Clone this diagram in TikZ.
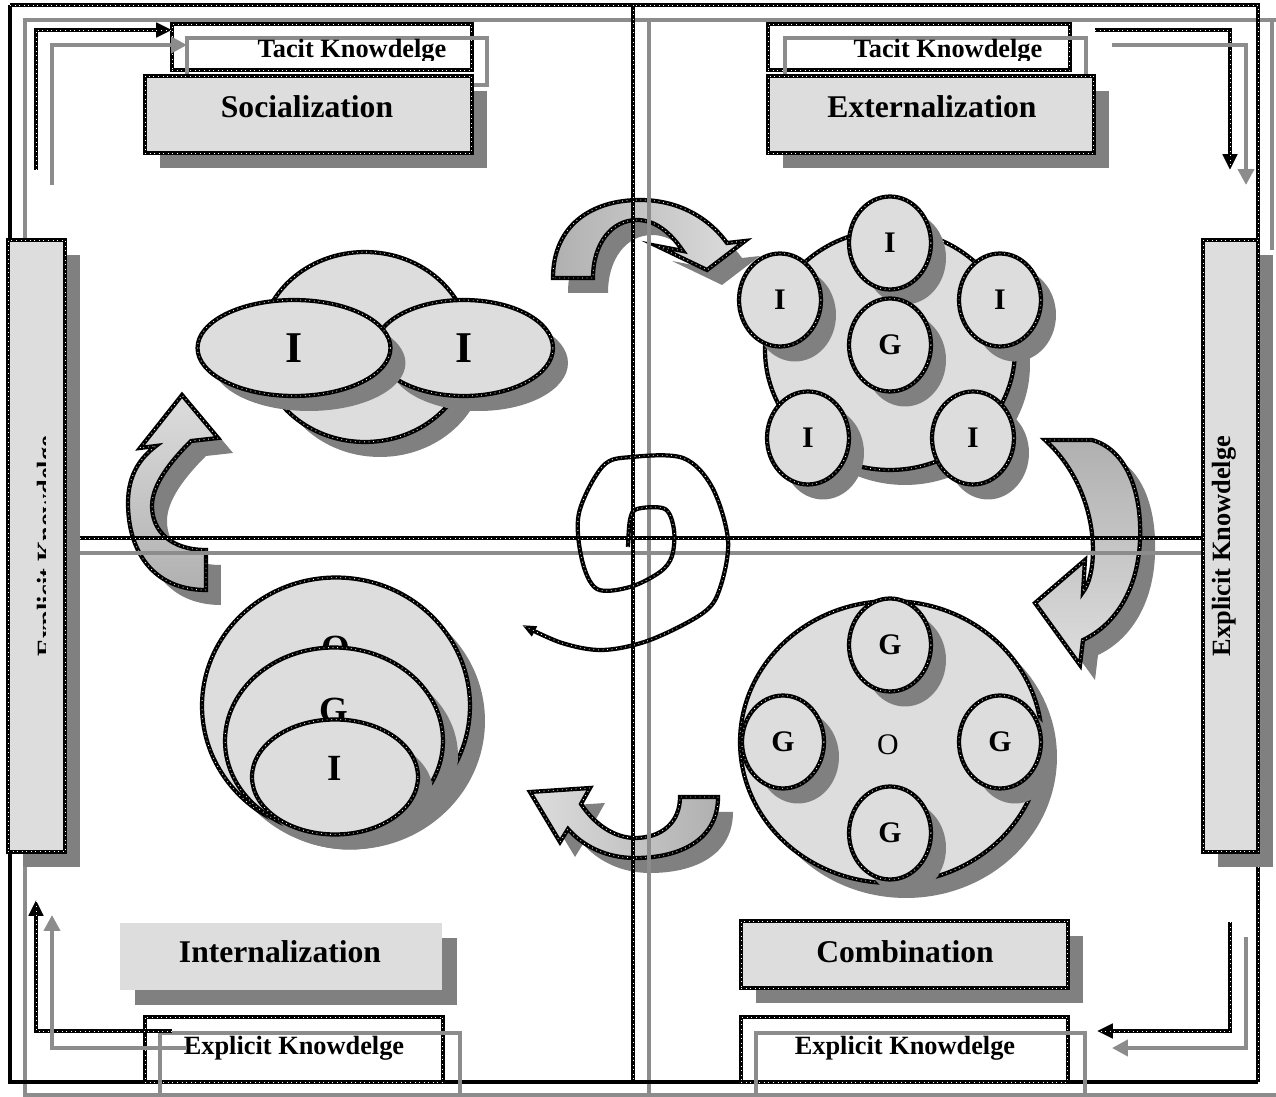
\documentclass[tikz,border=0pt]{standalone}
\usepackage{fontspec}
\setmainfont{Liberation Serif}
\usetikzlibrary{shapes.geometric,shadows,arrows.meta}

\definecolor{panel}{HTML}{DDDDDD}
\definecolor{shadowgray}{HTML}{808080}
\definecolor{rulegray}{HTML}{8C8C8C}
\definecolor{tailgray}{HTML}{B0B0B0}

\tikzset{
  chain/.style={draw=black, line width=2.4pt,
    postaction={draw=white, line width=0.55pt, dash pattern=on 0.4pt off 2.2pt, arrows=-}},
  rule/.style={draw=rulegray, line width=2.3pt},
  blackrule/.style={draw=black, line width=2.2pt},
  dropped/.style={general shadow={fill=shadowgray, shadow xshift=0.3cm, shadow yshift=-0.3cm}},
  plate/.style={rectangle, inner sep=0pt, outer sep=0pt},
  bubble/.style={ellipse, chain, fill=panel, dropped, inner sep=0pt, outer sep=0pt},
  disc/.style={bubble, minimum width=1.64cm, minimum height=1.86cm, font=\bfseries\fontsize{17}{17}\selectfont},
  swirl/.style={chain, dropped},
  headline/.style={font=\bfseries\fontsize{18}{20}\selectfont},
  knowtext/.style={font=\bfseries\fontsize{15}{17}\selectfont},
  letter/.style={font=\bfseries\fontsize{21}{21}\selectfont},
  bigletter/.style={font=\bfseries\fontsize{25}{25}\selectfont},
  tipblack/.style={-{Triangle[length=9pt,width=8pt]}},
  tipgray/.style={-{Triangle[length=9pt,width=9pt]}},
}

\begin{document}
\begin{tikzpicture}[x=0.02cm, y=-0.02cm]
\useasboundingbox (0,0) rectangle (1276,1097);

% curved arrows of the cycle
\path[swirl, left color=tailgray, right color=panel]
  (553,278) .. controls (553,225) and (592,200) .. (640,200)
  .. controls (683,200) and (712,222) .. (727,243)
  -- (745,241) -- (707,270) -- (657,246) -- (683,251)
  .. controls (670,232) and (655,220) .. (637,220)
  .. controls (612,220) and (593,243) .. (593,278) -- cycle;
\path[swirl, top color=tailgray, bottom color=panel]
  (1045,440) -- (1092,440)
  .. controls (1128,450) and (1142,495) .. (1140,540)
  .. controls (1138,590) and (1115,625) .. (1083,640)
  -- (1080,665) -- (1035,603) -- (1085,560) -- (1083,592)
  .. controls (1100,570) and (1100,490) .. (1045,440) -- cycle;
\path[swirl, right color=tailgray, left color=panel]
  (718,797) .. controls (718,840) and (680,858) .. (635,858)
  .. controls (605,858) and (582,845) .. (568,829)
  -- (560,842) -- (530,792) -- (590,788) -- (581,804)
  .. controls (595,825) and (615,838) .. (635,838)
  .. controls (662,838) and (680,822) .. (680,797) -- cycle;
\path[swirl, bottom color=tailgray, top color=panel]
  (206,590) .. controls (153,590) and (128,551) .. (128,503)
  .. controls (128,475) and (140,458) .. (156,446)
  -- (140,448) -- (182,395) -- (218,438) -- (191,441)
  .. controls (170,462) and (152,485) .. (152,506)
  .. controls (152,531) and (171,550) .. (206,550) -- cycle;

% grey frame and cross
\draw[rule] (25,1097) -- (25,20) -- (1276,20);
\draw[rule] (25,1095) -- (1276,1095);
\draw[rule] (1272,20) -- (1272,250);
\draw[rule] (649,20) -- (649,1097);
\draw[rule] (80,553) -- (1203,553);

% black frame and cross
\draw[blackrule] (10,5) -- (10,1082) -- (1258,1082);
\draw[chain] (10,5) -- (1258,5) -- (1258,1082);
\draw[chain] (633,5) -- (633,1082);
\draw[chain] (80,538) -- (1203,538);

% spiral
\draw[chain, -{Triangle[length=8pt,width=6pt]}] plot[smooth, tension=0.55] coordinates {
  (628,547) (630,520) (637,509) (665,509) (674,530) (672,556) (660,572)
  (630,587) (597,589) (582,560) (579,513) (603,466) (632,457) (683,458)
  (712,487) (728,540) (720,588) (703,613) (650,640) (603,650) (562,643) (522,625)};

% side bars
\node[plate, chain, fill=panel, dropped, minimum width=1.14cm, minimum height=12.24cm] (leftbar) at (36.5,546) {};
\begin{scope}
  \clip (8,240) rectangle (45,852);
  \node[knowtext, rotate=90, anchor=base] (leftknow) at (55,546) {Explicit Knowdelge};
\end{scope}
\node[plate, chain, fill=panel, dropped, minimum width=1.1cm, minimum height=12.24cm] (rightbar) at (1230.5,546) {};
\node[knowtext, rotate=90, anchor=base] (rightknow) at (1230,546) {Explicit Knowdelge};

% socialization
\node[plate, chain, minimum width=6cm, minimum height=0.92cm] (tacitA) at (322,47) {};
\node[plate, rule, minimum width=6cm, minimum height=0.94cm] (grayA) at (337,61.5) {};
\begin{scope}
  \clip (150,24) rectangle (480,61);
  \node[knowtext, anchor=base] (tacitAtext) at (352,58) {Tacit Knowdelge};
\end{scope}
\node[plate, chain, fill=panel, dropped, minimum width=6.54cm, minimum height=1.54cm] (socbox) at (308.5,114.5) {};
\node[headline, anchor=base] (soctext) at (307,118) {Socialization};
\draw[chain, tipblack] (36,170) |- ([yshift=-0.12cm]tacitA.north west);
\draw[rule, tipgray] (52,185) |- ([yshift=-0.14cm]grayA.north west);

% externalization
\node[plate, chain, minimum width=6.04cm, minimum height=0.92cm] (tacitB) at (919,47) {};
\node[plate, rule, minimum width=6.02cm, minimum height=0.94cm] (grayB) at (935.5,61.5) {};
\begin{scope}
  \clip (750,24) rectangle (1100,61);
  \node[knowtext, anchor=base] (tacitBtext) at (948,58) {Tacit Knowdelge};
\end{scope}
\node[plate, chain, fill=panel, dropped, minimum width=6.52cm, minimum height=1.54cm] (extbox) at (931,114.5) {};
\node[headline, anchor=base] (exttext) at (932,118) {Externalization};
\draw[chain, tipblack] ([xshift=0.5cm, yshift=-0.12cm]tacitB.north east) -| (1230,170);
\draw[rule, tipgray] ([xshift=0.52cm, yshift=-0.14cm]grayB.north east) -| (1246,185);

% internalization
\node[plate, fill=panel, dropped, minimum width=6.44cm, minimum height=1.34cm] (intbox) at (281,956.5) {};
\node[headline, anchor=base] (inttext) at (280,963) {Internalization};
\node[plate, chain, minimum width=5.96cm, minimum height=1.3cm] (expA) at (294,1049.5) {};
\node[plate, rule, minimum width=6cm, minimum height=1.64cm] (grayC) at (310,1074) {};
\node[knowtext, anchor=base] (expAtext) at (294,1055) {Explicit Knowdelge};
\draw[chain, tipblack] ([xshift=0.54cm, yshift=-0.28cm]expA.north west) -| (36,900);
\draw[rule, tipgray] ([xshift=0.54cm, yshift=-0.3cm]grayC.north west) -| (52,915);

% combination
\node[plate, chain, fill=panel, dropped, minimum width=6.54cm, minimum height=1.34cm] (combbox) at (904.5,954.5) {};
\node[headline, anchor=base] (combtext) at (905,963) {Combination};
\node[plate, chain, minimum width=6.54cm, minimum height=1.3cm] (expB) at (904.5,1049.5) {};
\node[plate, rule, minimum width=6.58cm, minimum height=1.64cm] (grayD) at (920.5,1074) {};
\node[knowtext, anchor=base] (expBtext) at (905,1055) {Explicit Knowdelge};
\draw[chain, tipblack] (1230,922) |- ([xshift=0.58cm, yshift=-0.28cm]expB.north east);
\draw[rule, tipgray] (1246,937) |- ([xshift=0.54cm, yshift=-0.3cm]grayD.north east);

% individuals sharing tacit knowledge
\node[bubble, minimum width=4.2cm, minimum height=3.8cm] (socall) at (365,347) {};
\node[bubble, bigletter, minimum width=3.56cm, minimum height=1.92cm] (socright) at (464,348) {I};
\node[bubble, bigletter, minimum width=3.86cm, minimum height=1.92cm] (socleft) at (294,348) {I};

% individuals around the group
\node[bubble, minimum width=5cm, minimum height=4.8cm] (extall) at (890,350) {};
\foreach \nm/\pos/\txt in {top/{(890,243)}/I, left/{(780,300)}/I, right/{(1000,300)}/I,
    mid/{(890,345)}/G, lowl/{(808,438)}/I, lowr/{(973,438)}/I}
  \node[disc] (ext\nm) at \pos {\txt};

% groups inside the organization
\node[bubble, minimum width=6.04cm, minimum height=5.64cm] (comball) at (891,742) {};
\node[font=\fontsize{17}{17}\selectfont] (combo) at (888,745) {O};
\foreach \nm/\pos in {top/{(890,645)}, left/{(783,742)}, right/{(1000,742)}, low/{(890,833)}}
  \node[disc] (comb\nm) at \pos {G};

% nested organization, group, individual
\node[bubble, minimum width=5.36cm, minimum height=5.14cm] (intall) at (336,706) {};
\node[letter] (into) at (336,648) {O};
\node[bubble, minimum width=4.36cm, minimum height=3.74cm] (intgrp) at (334,741) {};
\node[letter] (intg) at (334,710) {G};
\node[bubble, minimum width=3.32cm, minimum height=2.3cm] (intind) at (335,777) {};
\node[letter] (inti) at (335,768) {I};

\end{tikzpicture}
\end{document}
